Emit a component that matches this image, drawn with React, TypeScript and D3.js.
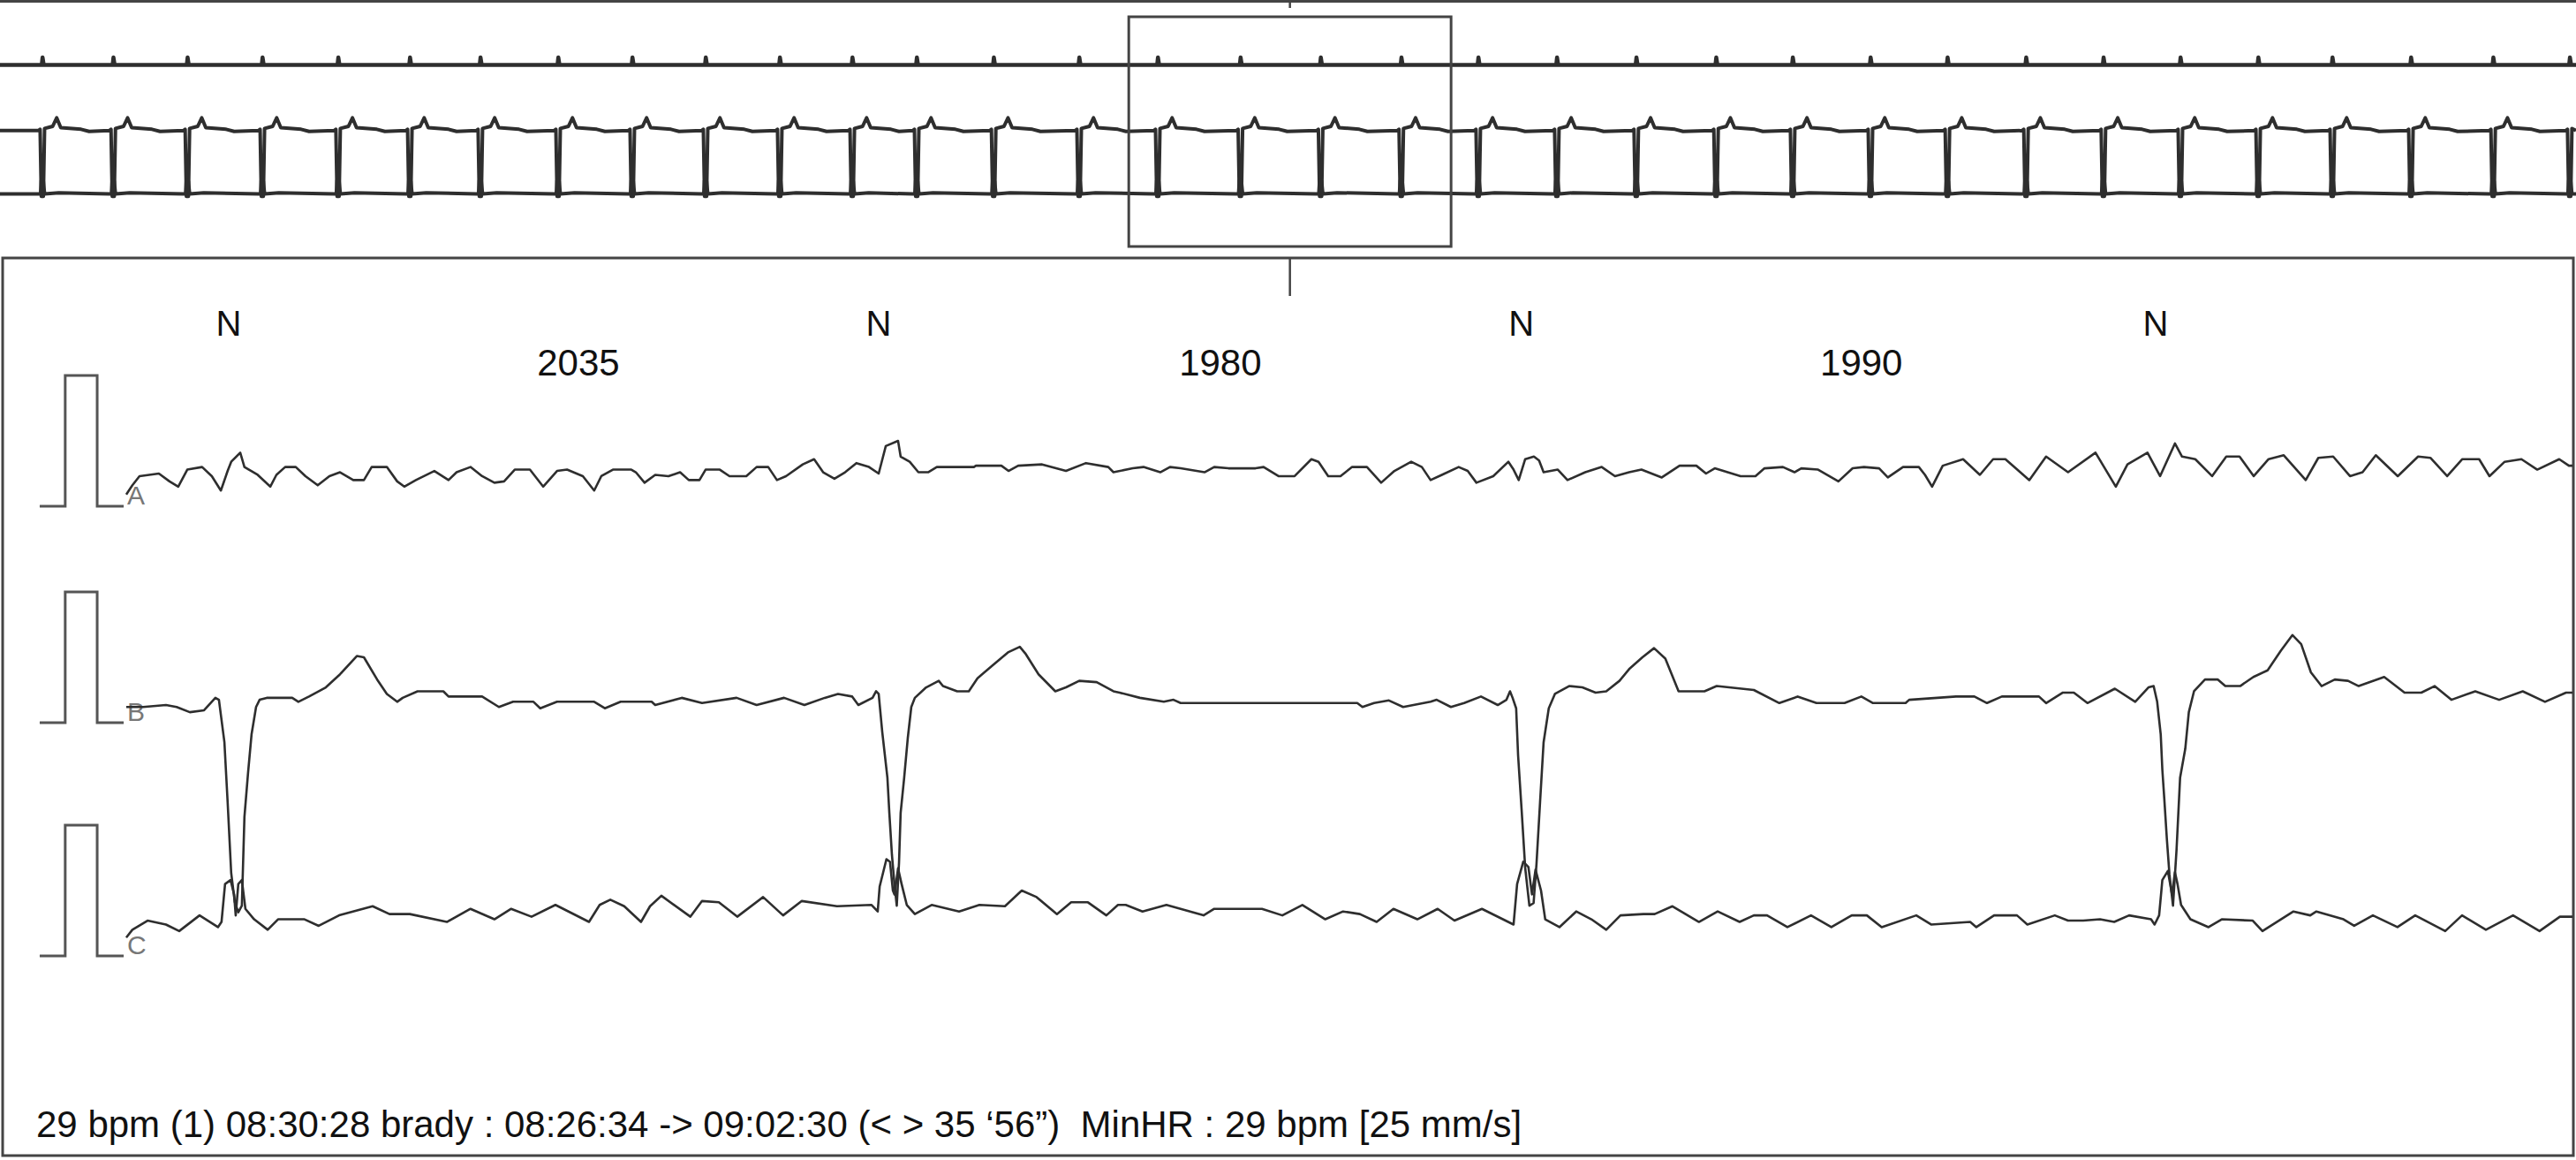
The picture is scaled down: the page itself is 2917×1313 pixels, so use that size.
import React from "react";
import * as d3 from "d3";

const W = 2917;
const H = 1313;

// ---------------- DATA ----------------
// Detail panel: time in ms (0 = start of traces), amplitude in mV
const channelNames = ["A", "B", "C"];
const calPulse: [number, number][] = [[-268, 0], [-189, 0], [-189, 1], [-90, 1], [-90, 0], [-8, 0]];

const channelA: [number, number][] = [
  [0,0.09],[19,0.16],[41,0.23],[101,0.25],[134,0.19],[161,0.15],[189,0.28],[235,0.30],[265,0.23],[293,0.12],[314,0.27],[325,0.34],[353,0.41],[366,0.30],[407,0.24],[446,0.15],[465,0.24],[492,0.30],[525,0.30],[555,0.23],[593,0.16],[629,0.23],[662,0.26],[703,0.20],[736,0.20],[760,0.30],[807,0.30],[839,0.19],[861,0.15],[897,0.20],[954,0.27],[998,0.20],[1023,0.26],[1066,0.30],[1102,0.23],[1140,0.18],[1170,0.19],[1203,0.28],[1250,0.28],[1291,0.15],[1334,0.27],[1365,0.28],[1414,0.23],[1449,0.12],[1471,0.23],[1507,0.28],[1564,0.28],[1578,0.26],[1605,0.18],[1638,0.24],[1679,0.23],[1715,0.26],[1742,0.20],[1775,0.20],[1794,0.28],[1838,0.28],[1868,0.23],[1920,0.23],[1952,0.30],[1988,0.30],[2015,0.20],[2043,0.23],[2095,0.32],[2130,0.36],[2158,0.26],[2193,0.21],[2226,0.26],[2261,0.33],[2300,0.30],[2330,0.25],[2352,0.46],[2390,0.50],[2398,0.38],[2426,0.34],[2453,0.26],[2483,0.26],[2510,0.30],[2625,0.30],[2631,0.31],[2710,0.31],[2732,0.27],[2762,0.31],[2836,0.32],[2910,0.27],[2972,0.33],[3041,0.30],[3057,0.26],[3117,0.29],[3150,0.30],[3202,0.26],[3232,0.30],[3265,0.29],[3339,0.26],[3369,0.30],[3413,0.29],[3497,0.29],[3522,0.30],[3568,0.23],[3618,0.23],[3670,0.36],[3692,0.34],[3722,0.23],[3760,0.23],[3796,0.30],[3842,0.30],[3886,0.18],[3927,0.27],[3979,0.34],[4012,0.30],[4039,0.20],[4074,0.24],[4126,0.30],[4154,0.27],[4181,0.18],[4233,0.23],[4280,0.34],[4296,0.28],[4312,0.20],[4332,0.36],[4359,0.38],[4375,0.35],[4389,0.26],[4433,0.28],[4463,0.20],[4518,0.26],[4569,0.30],[4610,0.23],[4654,0.26],[4692,0.28],[4755,0.22],[4810,0.31],[4862,0.31],[4892,0.25],[4919,0.29],[4999,0.23],[5045,0.23],[5073,0.29],[5130,0.30],[5166,0.26],[5187,0.29],[5239,0.28],[5302,0.19],[5346,0.29],[5381,0.30],[5428,0.29],[5455,0.22],[5502,0.30],[5551,0.30],[5570,0.24],[5592,0.15],[5625,0.31],[5688,0.36],[5740,0.24],[5781,0.36],[5819,0.36],[5893,0.20],[5945,0.38],[6013,0.26],[6098,0.41],[6161,0.15],[6197,0.32],[6259,0.41],[6298,0.23],[6344,0.48],[6366,0.38],[6407,0.36],[6459,0.23],[6503,0.38],[6544,0.38],[6588,0.23],[6634,0.36],[6681,0.39],[6749,0.20],[6788,0.37],[6834,0.38],[6886,0.23],[6925,0.26],[6966,0.39],[7034,0.23],[7097,0.38],[7135,0.37],[7187,0.23],[7234,0.36],[7286,0.36],[7318,0.23],[7365,0.34],[7417,0.36],[7466,0.28],[7534,0.36],[7564,0.31],[7575,0.31]
];

const channelB: [number, number][] = [
  [0,0.12],[52,0.12],[123,0.135],[156,0.12],[197,0.08],[241,0.095],[276,0.19],[287,0.175],[304,-0.15],[314,-0.61],[325,-1.15],[336,-1.37],[347,-1.45],[358,-1.40],[366,-0.72],[377,-0.39],[388,-0.09],[402,0.12],[413,0.175],[435,0.19],[514,0.19],[533,0.16],[566,0.20],[618,0.27],[662,0.37],[714,0.51],[736,0.50],[777,0.33],[807,0.22],[839,0.16],[856,0.19],[902,0.24],[982,0.24],[998,0.20],[1102,0.20],[1154,0.12],[1198,0.16],[1261,0.16],[1282,0.11],[1334,0.16],[1449,0.16],[1482,0.11],[1531,0.16],[1627,0.16],[1638,0.135],[1720,0.19],[1783,0.15],[1890,0.19],[1952,0.135],[2037,0.19],[2100,0.135],[2163,0.19],[2204,0.22],[2248,0.20],[2267,0.135],[2311,0.19],[2322,0.24],[2330,0.22],[2341,-0.07],[2357,-0.42],[2363,-0.69],[2371,-1.01],[2379,-1.24],[2386,-1.40],[2393,-1.07],[2398,-0.69],[2409,-0.42],[2420,-0.12],[2431,0.12],[2442,0.19],[2477,0.27],[2516,0.32],[2529,0.28],[2573,0.24],[2609,0.24],[2636,0.34],[2688,0.45],[2732,0.54],[2767,0.58],[2784,0.53],[2825,0.37],[2877,0.24],[2910,0.27],[2951,0.32],[3005,0.31],[3057,0.24],[3076,0.23],[3139,0.19],[3213,0.16],[3243,0.175],[3265,0.15],[3528,0.15],[3812,0.15],[3828,0.12],[3864,0.15],[3910,0.17],[3954,0.12],[4039,0.16],[4058,0.175],[4102,0.12],[4143,0.15],[4195,0.20],[4247,0.135],[4274,0.175],[4285,0.24],[4293,0.19],[4304,0.11],[4310,-0.25],[4321,-0.67],[4332,-1.11],[4345,-1.40],[4358,-1.38],[4367,-1.08],[4378,-0.61],[4389,-0.15],[4405,0.11],[4424,0.22],[4468,0.28],[4509,0.27],[4550,0.23],[4583,0.24],[4624,0.32],[4654,0.41],[4695,0.50],[4731,0.57],[4766,0.49],[4807,0.24],[4887,0.24],[4925,0.28],[5040,0.25],[5119,0.15],[5176,0.20],[5234,0.15],[5321,0.15],[5373,0.20],[5409,0.15],[5510,0.15],[5521,0.175],[5666,0.20],[5723,0.20],[5762,0.15],[5808,0.20],[5923,0.20],[5945,0.15],[5997,0.23],[6031,0.23],[6073,0.15],[6158,0.26],[6221,0.16],[6262,0.27],[6278,0.28],[6289,0.16],[6300,-0.09],[6305,-0.36],[6311,-0.58],[6319,-0.89],[6327,-1.16],[6338,-1.40],[6349,-0.97],[6360,-0.42],[6376,-0.20],[6387,0.08],[6403,0.24],[6437,0.33],[6477,0.33],[6500,0.28],[6546,0.28],[6587,0.35],[6631,0.40],[6672,0.55],[6708,0.67],[6735,0.60],[6765,0.385],[6798,0.28],[6839,0.33],[6880,0.32],[6913,0.28],[6992,0.35],[7055,0.23],[7107,0.23],[7148,0.28],[7200,0.175],[7274,0.24],[7348,0.175],[7421,0.24],[7490,0.16],[7555,0.23],[7575,0.23]
];

const channelC: [number, number][] = [
  [0,0.14],[19,0.20],[66,0.27],[123,0.24],[164,0.19],[227,0.31],[284,0.22],[295,0.26],[306,0.55],[323,0.58],[334,0.47],[339,0.31],[347,0.55],[358,0.58],[369,0.36],[396,0.28],[438,0.20],[470,0.28],[552,0.28],[596,0.23],[659,0.31],[763,0.38],[815,0.32],[878,0.32],[993,0.26],[1066,0.36],[1140,0.28],[1192,0.36],[1255,0.30],[1329,0.39],[1433,0.26],[1466,0.39],[1499,0.43],[1542,0.38],[1594,0.26],[1622,0.38],[1657,0.46],[1747,0.30],[1783,0.42],[1835,0.41],[1892,0.30],[1972,0.45],[2034,0.31],[2092,0.42],[2201,0.38],[2308,0.39],[2327,0.34],[2333,0.53],[2354,0.74],[2365,0.72],[2374,0.50],[2379,0.47],[2390,0.67],[2401,0.55],[2417,0.39],[2442,0.32],[2494,0.39],[2579,0.34],[2642,0.39],[2721,0.38],[2773,0.50],[2819,0.45],[2882,0.32],[2926,0.41],[2978,0.41],[3035,0.31],[3071,0.39],[3095,0.39],[3147,0.34],[3221,0.39],[3265,0.36],[3336,0.31],[3369,0.36],[3517,0.36],[3580,0.31],[3642,0.39],[3713,0.28],[3768,0.34],[3820,0.32],[3872,0.26],[3924,0.36],[3998,0.28],[4061,0.36],[4113,0.27],[4198,0.36],[4296,0.24],[4307,0.55],[4326,0.72],[4342,0.68],[4353,0.47],[4364,0.66],[4381,0.50],[4394,0.28],[4438,0.22],[4490,0.34],[4537,0.28],[4583,0.20],[4627,0.31],[4698,0.32],[4733,0.32],[4788,0.38],[4870,0.26],[4928,0.34],[4996,0.26],[5040,0.31],[5081,0.31],[5144,0.22],[5217,0.31],[5280,0.22],[5343,0.31],[5390,0.31],[5436,0.22],[5543,0.31],[5589,0.24],[5710,0.26],[5729,0.22],[5784,0.31],[5855,0.31],[5887,0.24],[5972,0.31],[6013,0.27],[6060,0.27],[6112,0.28],[6156,0.26],[6202,0.31],[6270,0.28],[6281,0.24],[6295,0.31],[6305,0.58],[6322,0.65],[6335,0.47],[6344,0.64],[6352,0.55],[6363,0.39],[6392,0.28],[6448,0.22],[6489,0.28],[6585,0.27],[6615,0.19],[6711,0.34],[6763,0.31],[6782,0.34],[6866,0.28],[6899,0.23],[6957,0.31],[7033,0.22],[7088,0.31],[7181,0.19],[7233,0.31],[7307,0.20],[7391,0.31],[7473,0.19],[7536,0.30],[7575,0.30]
];

const beatMarkerTimes = [317, 2330, 4320, 6284];
const beatMarkerLabels = ["N", "N", "N", "N"];
const rrLabelTimes = [1400, 3388, 5373];
const rrLabels = ["2035", "1980", "1990"];
const footerText = "29 bpm (1) 08:30:28 brady : 08:26:34 -> 09:02:30 (< > 35 \u201856\u201D)  MinHR : 29 bpm [25 mm/s]";

// Overview strip: beat times in seconds
const overviewBeats = [
  1.00, 2.75, 4.58, 6.43, 8.30, 10.07, 11.81, 13.73, 15.56, 17.37, 19.20, 20.99, 22.58, 24.48, 26.59,
  28.53, 30.57, 32.55, 34.54, 36.44, 38.38, 40.34, 42.31, 44.20, 46.12, 48.02, 49.96, 51.87, 53.77,
  55.69, 57.52, 59.46, 61.49, 63.38
];
const overviewDuration = 63.58; // s
const overviewDetailStart = 28.24; // s, overview time of detail t = 0
// per-beat glyphs in overview (s relative to beat, mV)
const ovGlyphA: [number, number][] = [[-0.04, 0.28], [0.03, 0.28], [0.05, 0.46], [0.08, 0.28]];
const ovGlyphB: [number, number][] = [[-0.05, 0.15], [-0.01, 0.18], [0.02, -1.4], [0.07, -1.4], [0.1, 0.2], [0.3, 0.25], [0.4, 0.45], [0.5, 0.22], [1.0, 0.18], [1.2, 0.13]];
const ovGlyphC: [number, number][] = [[-0.04, 0.3], [0, 0.3], [0.02, 0.62], [0.07, 0.6], [0.1, 0.3], [0.45, 0.33]];
const ovBaseline = [0.28, 0.15, 0.3];

// ---------------- LAYOUT ----------------
const panel = { x0: 4, x1: 2913, y0: 292, y1: 1308 };
const detailDomain: [number, number] = [-380, 7575];
const chBase = [573, 818, 1082];
const pxPerMv = 148;
const ovBase = [87, 155, 234];
const ovPxPerMv = 48;

const TRACE = "#2e2e2e";
const FRAME = "#444";

function buildOverview(glyph: [number, number][], base: number): [number, number][] {
  const pts: [number, number][] = [[0, base]];
  overviewBeats.forEach((b) => glyph.forEach(([dt, v]) => pts.push([b + dt, v])));
  pts.push([overviewDuration, base]);
  return pts.filter((p) => p[0] >= 0 && p[0] <= overviewDuration);
}

export default function App() {
  const x = d3.scaleLinear().domain(detailDomain).range([panel.x0, panel.x1]);
  const ys = chBase.map((b) => d3.scaleLinear().domain([0, 1]).range([b, b - pxPerMv]));
  const channels = [channelA, channelB, channelC];

  const xo = d3.scaleLinear().domain([0, overviewDuration]).range([0, W]);
  const yo = ovBase.map((b) => d3.scaleLinear().domain([0, 1]).range([b, b - ovPxPerMv]));
  const ovTraces = [ovGlyphA, ovGlyphB, ovGlyphC].map((g, i) => buildOverview(g, ovBaseline[i]));

  const rectX0 = xo(overviewDetailStart + detailDomain[0] / 1000);
  const rectX1 = xo(overviewDetailStart + detailDomain[1] / 1000);
  const tickX = (rectX0 + rectX1) / 2;

  const line = (xs: any, y: any) =>
    d3.line<[number, number]>().x((d) => xs(d[0])).y((d) => y(d[1]));

  return (
    <svg width={W} height={H} style={{ position: "absolute", left: 0, top: 0, background: "#fff" }}
      fontFamily="'Liberation Sans', Arial, Helvetica, sans-serif">
      <rect x={0} y={0} width={W} height={H} fill="#fff" />
      {/* top border */}
      <line x1={0} x2={W} y1={1.5} y2={1.5} stroke={FRAME} strokeWidth={3} />
      <line x1={tickX} x2={tickX} y1={0} y2={9} stroke={FRAME} strokeWidth={2.5} />
      {/* overview traces */}
      {ovTraces.map((tr, i) => (
        <path key={"ov" + i} d={line(xo, yo[i])(tr) || ""} fill="none" stroke={TRACE}
          strokeWidth={i === 0 ? 4.5 : 4} strokeLinejoin="round" />
      ))}
      {/* zoom window */}
      <rect x={rectX0} y={19} width={rectX1 - rectX0} height={260} fill="none" stroke={FRAME} strokeWidth={3} />
      {/* detail panel frame */}
      <rect x={panel.x0 - 1} y={panel.y0} width={panel.x1 - panel.x0 + 2} height={panel.y1 - panel.y0}
        fill="none" stroke={FRAME} strokeWidth={3} />
      <line x1={tickX} x2={tickX} y1={panel.y0} y2={335} stroke={FRAME} strokeWidth={2.5} />
      {/* calibration pulses and channel letters */}
      {ys.map((y, i) => (
        <g key={"cal" + i}>
          <path d={line(x, y)(calPulse) || ""} fill="none" stroke="#555" strokeWidth={3} />
          <text x={x(0) + 1} y={y(0) - 2} fontSize={30} fill="#777">{channelNames[i]}</text>
        </g>
      ))}
      {/* traces */}
      {channels.map((data, i) => (
        <path key={"tr" + i} d={line(x, ys[i])(data) || ""} fill="none" stroke={TRACE}
          strokeWidth={2.6} strokeLinejoin="round" />
      ))}
      {/* annotations */}
      {beatMarkerTimes.map((t, i) => (
        <text key={"n" + i} x={x(t)} y={380} fontSize={40} textAnchor="middle" fill="#111">{beatMarkerLabels[i]}</text>
      ))}
      {rrLabelTimes.map((t, i) => (
        <text key={"rr" + i} x={x(t)} y={425} fontSize={42} textAnchor="middle" fill="#111">{rrLabels[i]}</text>
      ))}
      <text x={41} y={1287} fontSize={42} fill="#111" style={{ whiteSpace: "pre" }}>{footerText}</text>
    </svg>
  );
}
